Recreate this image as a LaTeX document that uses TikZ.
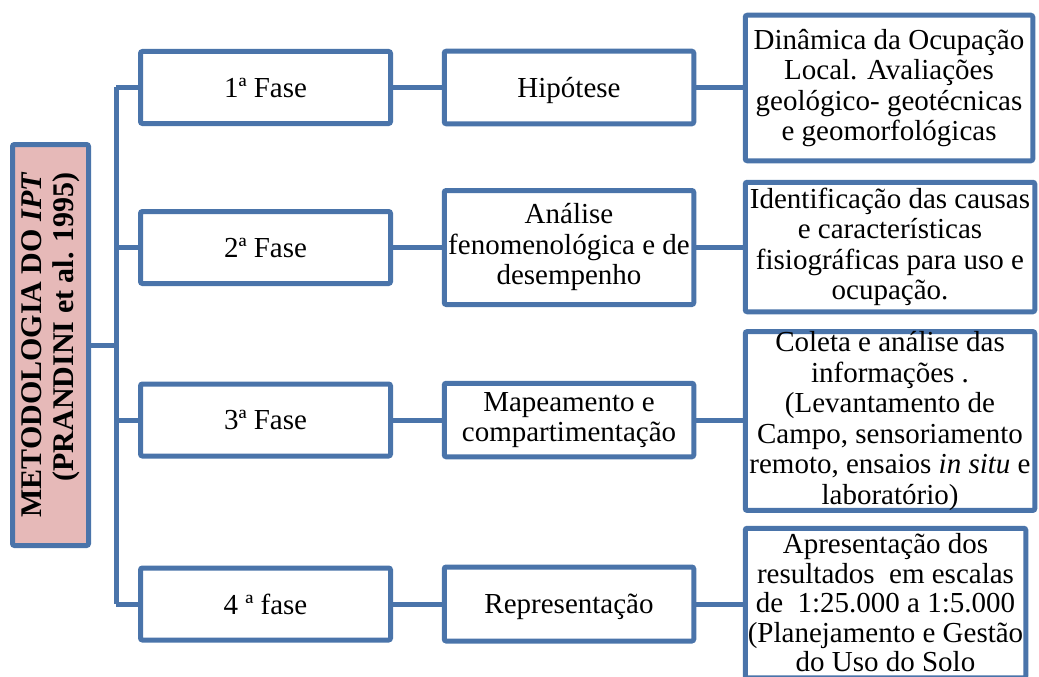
\documentclass[tikz,border=0pt]{standalone}
\usepackage{fontspec}
\setmainfont{Liberation Serif}
\definecolor{bl}{HTML}{4A74AA}
\definecolor{pk}{HTML}{E6B9B8}
\newcommand{\lowertext}[1]{\raisebox{-3pt}[\height][\depth]{#1}}
\begin{document}
\begin{tikzpicture}[x=1pt,y=-1pt,
 box/.style={draw=bl, line width=5pt, rounded corners=2pt, fill=white, align=center, inner sep=0pt, font=\fontsize{29}{30.5}\selectfont},
 conn/.style={draw=bl, line width=5pt}]
\useasboundingbox (0,0) rectangle (1039,677);
\clip (0,0) rectangle (1039,677);
\coordinate (trunk) at (116,345);
\node[box, fill=pk, rotate=90, minimum width=401pt, minimum height=76pt, align=right, font=\fontsize{30}{32}\selectfont\bfseries] (meta) at (50.5,345) {METODOLOGIA DO \textit{IPT}\\(PRANDINI et al. 1995)};
\foreach \n/\y/\t in {1/87.5/{1ª Fase},2/247.5/{2ª Fase},3/420/{3ª Fase},4/604/{4 ª fase}}{
  \node[box, minimum width=250pt, minimum height=72pt] (f\n) at (265.5,\y) {\t};
}
\node[box, minimum width=249.5pt, minimum height=72.5pt] (m1) at (569,87.5) {\lowertext{Hipótese}};
\node[box, minimum width=249.5pt, minimum height=114pt] (m2) at (569,247.5) {Análise\\fenomenológica e de\\desempenho};
\node[box, minimum width=249.5pt, minimum height=73.5pt] (m3) at (569,420) {Mapeamento e\\compartimentação};
\node[box, minimum width=249.5pt, minimum height=74pt] (m4) at (569,604) {\lowertext{Representação}};
\node[box, minimum width=287.5pt, minimum height=145.5pt] (r1) at (889,88) {Dinâmica da Ocupação\\Local. Avaliações\\geológico- geotécnicas\\e geomorfológicas};
\node[box, minimum width=289.5pt, minimum height=129.5pt] (r2) at (890,247) {Identificação das causas\\e características\\fisiográficas para uso e\\ocupação.};
\node[box, minimum width=289.5pt, minimum height=173.5pt] (r3) at (890,421) {Coleta e análise das\\informações .\\(Levantamento de\\Campo, sensoriamento\\remoto, ensaios \textit{in situ} e\\laboratório)};
\node[box, minimum width=280.5pt, minimum height=149.5pt, font=\fontsize{29}{29.5}\selectfont] (r4) at (885.5,603) {Apresentação dos\\resultados\ \ em escalas\\de\ \ 1:25.000 a 1:5.000\\(Planejamento e Gestão\\do Uso do Solo};
\draw[conn] (meta.south) -- (meta.south -| trunk);
\draw[conn] (f1.west -| trunk) -- (f4.west -| trunk);
\foreach \n in {1,2,3,4}{
  \draw[conn] (f\n.west) -- (f\n.west -| trunk);
  \draw[conn] (f\n.east) -- (m\n.west);
  \draw[conn] (m\n.east) -- (m\n.east -| r\n.west);
}
\end{tikzpicture}
\end{document}
